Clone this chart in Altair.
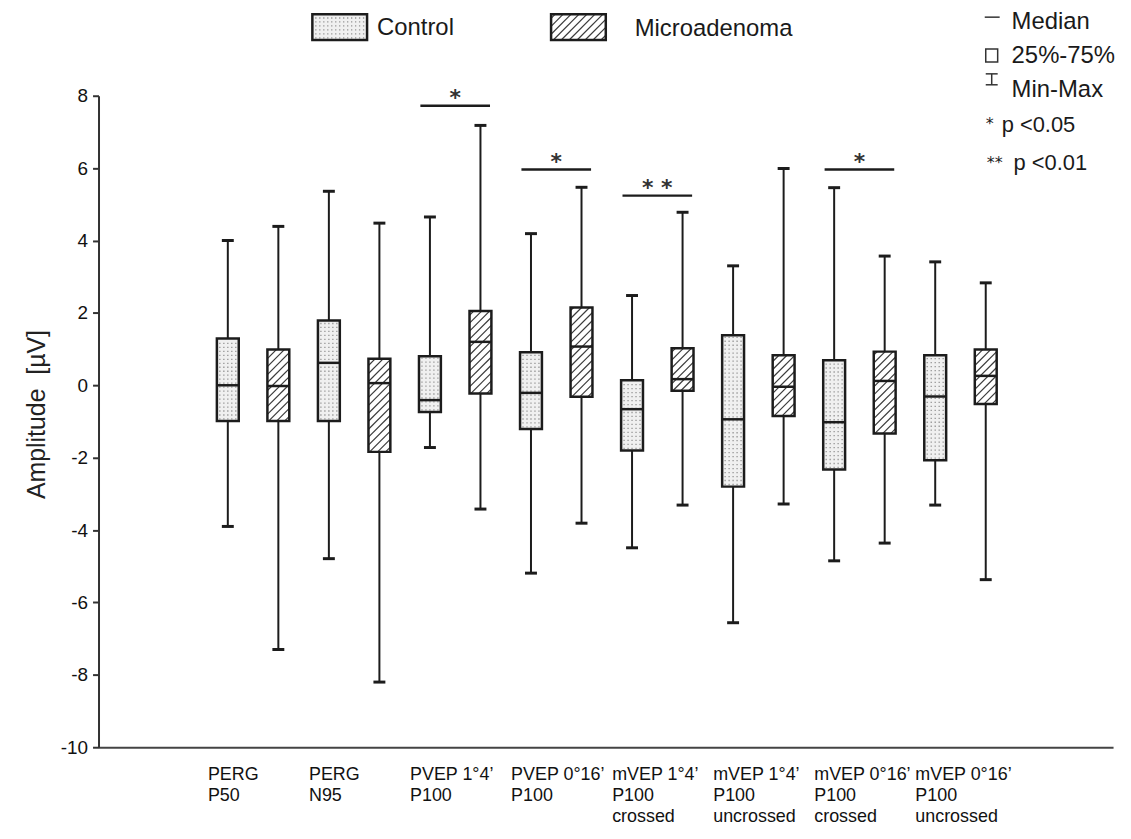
import altair as alt
import pandas as pd

# ---------------- data ----------------
groups = ["Control", "Microadenoma"]
categories = [
    "PERG\nP50",
    "PERG\nN95",
    "PVEP 1°4’\nP100",
    "PVEP 0°16’\nP100",
    "mVEP 1°4’\nP100\ncrossed",
    "mVEP 1°4’\nP100\nuncrossed",
    "mVEP 0°16’\nP100\ncrossed",
    "mVEP 0°16’\nP100\nuncrossed",
]
ctrl_min = [-3.90, -4.79, -1.72, -5.19, -4.49, -6.56, -4.85, -3.31]
ctrl_q1 = [-0.99, -0.99, -0.74, -1.21, -1.80, -2.80, -2.33, -2.07]
ctrl_med = [0.00, 0.62, -0.41, -0.21, -0.66, -0.94, -1.02, -0.31]
ctrl_q3 = [1.29, 1.79, 0.80, 0.91, 0.14, 1.38, 0.69, 0.83]
ctrl_max = [4.00, 5.36, 4.65, 4.19, 2.48, 3.30, 5.46, 3.41]

micro_min = [-7.30, -8.20, -3.42, -3.81, -3.31, -3.28, -4.36, -5.37]
micro_q1 = [-0.99, -1.84, -0.23, -0.32, -0.15, -0.85, -1.33, -0.52]
micro_med = [-0.02, 0.06, 1.20, 1.07, 0.17, -0.04, 0.12, 0.26]
micro_q3 = [0.99, 0.73, 2.05, 2.15, 1.02, 0.83, 0.93, 0.99]
micro_max = [4.39, 4.48, 7.18, 5.47, 4.78, 5.99, 3.57, 2.83]

sig_pairs = [2, 3, 4, 6]
sig_marks = ["*", "*", "* *", "*"]
sig_levels = [7.72, 5.96, 5.24, 5.96]

y_ticks = [-10, -8, -6, -4, -2, 0, 2, 4, 6, 8]
y_title = "Amplitude\u00a0\u00a0[µV]"

# ---------------- layout ----------------
FONT = "Liberation Sans"
W, H = 1020, 655
PAD_L, PAD_T, PAD_R, PAD_B = 91, 86, 10, 78
Y0, Y1 = -10, 8
SLOT_PX = 50.8
X0 = -130 / SLOT_PX
X1 = X0 + W / SLOT_PX
PXU = H / (Y1 - Y0)
BOX_HALF = 11 / SLOT_PX
CAP_HALF = 6 / SLOT_PX
INK = "#1c1c1c"
ORIGIN_X, ORIGIN_Y = PAD_L + 8, PAD_T + 8


def page_to_slot(px):
    return X0 + (px - ORIGIN_X) / SLOT_PX


def page_to_val(py):
    return Y1 - (py - ORIGIN_Y) / PXU


# ---------------- tables ----------------
rows = []
for k in range(len(categories)):
    for g, (mn, q1, md, q3, mx) in enumerate([
        (ctrl_min[k], ctrl_q1[k], ctrl_med[k], ctrl_q3[k], ctrl_max[k]),
        (micro_min[k], micro_q1[k], micro_med[k], micro_q3[k], micro_max[k]),
    ]):
        s = 2 * k + g
        rows.append(dict(group=groups[g], slot=s, mn=mn, q1=q1, med=md, q3=q3, mx=mx,
                         xl=s - BOX_HALF, xr=s + BOX_HALF, cl=s - CAP_HALF, cr=s + CAP_HALF))
boxes = pd.DataFrame(rows)

# legend swatches (in scale coordinates, converted from layout pixels)
swatches = pd.DataFrame([
    dict(group="Control", xl=page_to_slot(314), xr=page_to_slot(369), q1=page_to_val(38), q3=page_to_val(12)),
    dict(group="Microadenoma", xl=page_to_slot(554), xr=page_to_slot(609), q1=page_to_val(38), q3=page_to_val(12)),
])
rects = pd.concat([boxes[["group", "xl", "xr", "q1", "q3"]], swatches], ignore_index=True)


def hatch(x0, x1, y0, y1, step=8.0):
    w = (x1 - x0) * SLOT_PX
    h = (y1 - y0) * PXU
    segs = []
    c = -w + step * 0.6
    while c < h:
        xs_ = max(0.0, -c)
        xe_ = min(w, h - c)
        if xe_ - xs_ > 0.8:
            segs.append(dict(x=x0 + xs_ / SLOT_PX, y=y0 + (xs_ + c) / PXU,
                             x2=x0 + xe_ / SLOT_PX, y2=y0 + (xe_ + c) / PXU))
        c += step
    return segs


def dots(x0, x1, y0, y1, step=4.0):
    w = (x1 - x0) * SLOT_PX
    n = int(w // step)
    off = (w - (n - 1) * step) / 2
    inset = 1.5 / PXU
    return [dict(x=x0 + (off + i * step) / SLOT_PX, y=y0 + inset, y2=y1 - inset) for i in range(n)]


hatch_rows, dot_rows = [], []
for r in rects.itertuples():
    if r.group == "Microadenoma":
        hatch_rows += hatch(r.xl, r.xr, r.q1, r.q3)
    else:
        dot_rows += dots(r.xl, r.xr, r.q1, r.q3)
hatch_df = pd.DataFrame(hatch_rows)
dot_df = pd.DataFrame(dot_rows)

labels = pd.DataFrame(dict(label=categories, slot=[2 * k - 20 / SLOT_PX for k in range(len(categories))]))
sig = pd.DataFrame(dict(pair=sig_pairs, mark=sig_marks, level=sig_levels))
sig["xa"] = 2 * sig["pair"] + 0.5 - 35 / SLOT_PX
sig["xb"] = 2 * sig["pair"] + 0.5 + 35 / SLOT_PX
sig["xm"] = 2 * sig["pair"] + 0.5
sig["star_y"] = sig["level"] + 1 / PXU

# ---------------- scales & axes (identical in every layer so they merge) ----------------
xs = alt.Scale(domain=[X0, X1], nice=False, zero=False)
ys = alt.Scale(domain=[Y0, Y1], nice=False, zero=False)
X_AXIS = alt.Axis(labels=False, ticks=False, domain=True, domainColor="#444",
                  domainWidth=2, grid=False)
Y_AXIS = alt.Axis(values=y_ticks, grid=False, labelFontSize=19, labelFont=FONT,
                  labelExpr="'' + datum.value",
                  labelColor="#111", labelPadding=5, tickSize=6, tickWidth=2, tickColor="#333",
                  domainColor="#333", domainWidth=2, titleFont=FONT, titleFontSize=25,
                  titleFontWeight="normal", titleColor="#222", titlePadding=11,
                  titleY=320, titleAlign="center")


def X(f):
    return alt.X(f"{f}:Q", scale=xs, axis=X_AXIS, title=None)


def Yq(f):
    return alt.Y(f"{f}:Q", scale=ys, axis=Y_AXIS, title=y_title)


base = alt.Chart(boxes)

whisk = base.mark_rule(color=INK, strokeWidth=2).encode(x=X("slot"), y=Yq("mn"), y2="mx:Q")
caps_lo = base.mark_rule(color=INK, strokeWidth=3).encode(x=X("cl"), x2="cr:Q", y=Yq("mn"))
caps_hi = base.mark_rule(color=INK, strokeWidth=3).encode(x=X("cl"), x2="cr:Q", y=Yq("mx"))

rect_fill = alt.Chart(rects).mark_rect().encode(
    x=X("xl"), x2="xr:Q", y=Yq("q1"), y2="q3:Q",
    fill=alt.Fill("group:N", scale=alt.Scale(domain=groups, range=["#f0f0f0", "#ffffff"]), legend=None),
)
dot_layer = alt.Chart(dot_df).mark_rule(color="#949494", strokeWidth=1.3, strokeDash=[1.3, 2.7]).encode(
    x=X("x"), y=Yq("y"), y2="y2:Q")
hatch_layer = alt.Chart(hatch_df).mark_rule(color="#3a3a3a", strokeWidth=1.2).encode(
    x=X("x"), x2="x2:Q", y=Yq("y"), y2="y2:Q")
rect_line = alt.Chart(rects).mark_rect(filled=False, stroke=INK, strokeWidth=2.5).encode(
    x=X("xl"), x2="xr:Q", y=Yq("q1"), y2="q3:Q")
medians = base.mark_rule(color=INK, strokeWidth=2.5).encode(x=X("xl"), x2="xr:Q", y=Yq("med"))

sig_bars = alt.Chart(sig).mark_rule(color=INK, strokeWidth=2.5).encode(x=X("xa"), x2="xb:Q", y=Yq("level"))
sig_stars = alt.Chart(sig).mark_text(font="DejaVu Sans", fontSize=22, fontWeight="bold", color="#333",
                                     baseline="alphabetic").encode(
    x=X("xm"), y=Yq("star_y"), text="mark:N")

cat_text = alt.Chart(labels).mark_text(
    font=FONT, fontSize=18, align="left", baseline="top", lineBreak="\n", lineHeight=21, color="#111"
).encode(x=X("slot"), y=alt.value(H + 19), text="label:N")

one = pd.DataFrame({"k": [0]})


def ptext(txt, px, py, size, align="left", font=FONT, baseline="middle"):
    return alt.Chart(one).mark_text(text=txt, align=align, baseline=baseline, fontSize=size,
                                    font=font, color="#1a1a1a").encode(
        x=alt.value(px - ORIGIN_X), y=alt.value(py - ORIGIN_Y))


def prule(x1, y1, x2, y2, w=1.5):
    return alt.Chart(one).mark_rule(color="#333", strokeWidth=w).encode(
        x=alt.value(x1 - ORIGIN_X), x2=alt.value(x2 - ORIGIN_X),
        y=alt.value(y1 - ORIGIN_Y), y2=alt.value(y2 - ORIGIN_Y))


legend_box = alt.Chart(one).mark_rect(filled=False, stroke="#333", strokeWidth=1.5).encode(
    x=alt.value(991 - ORIGIN_X), x2=alt.value(1003 - ORIGIN_X),
    y=alt.value(47 - ORIGIN_Y), y2=alt.value(60 - ORIGIN_Y))

legend_layers = [
    ptext("Control", 379, 26, 24),
    ptext("Microadenoma", 638, 27, 24),
    prule(990, 15, 1005, 15),
    ptext("Median", 1017, 20, 24),
    legend_box,
    ptext("25%-75%", 1017, 54, 24),
    prule(997, 72, 997, 83),
    prule(991, 72, 1003, 72),
    prule(991, 83, 1003, 83),
    ptext("Min-Max", 1017, 88, 24),
    ptext("*", 995, 127, 16, align="center", font="DejaVu Sans", baseline="alphabetic"),
    ptext("p <0.05", 1007, 123, 22),
    ptext("**", 1000, 167, 16, align="center", font="DejaVu Sans", baseline="alphabetic"),
    ptext("p <0.01", 1019, 162, 22),
]

chart = alt.layer(
    whisk, rect_fill, dot_layer, hatch_layer, rect_line, medians, caps_lo, caps_hi,
    sig_bars, sig_stars, cat_text, *legend_layers
).properties(
    width=W, height=H,
    autosize=alt.AutoSizeParams(type="none"),
    padding={"left": PAD_L, "top": PAD_T, "right": PAD_R, "bottom": PAD_B},
    background="white",
).configure_view(stroke=None)

chart.save("out.html", embed_options={"renderer": "svg", "actions": False})
